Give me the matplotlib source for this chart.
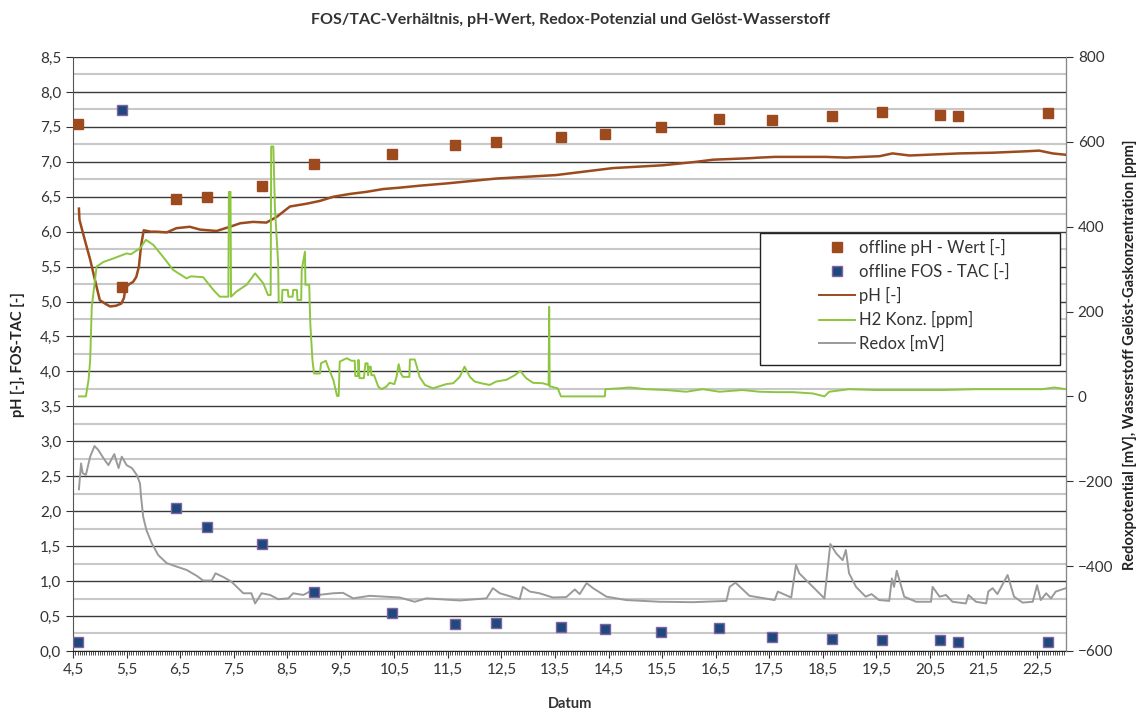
import matplotlib
matplotlib.use("Agg")
import matplotlib.pyplot as plt
from matplotlib.ticker import MultipleLocator, FuncFormatter
from matplotlib.lines import Line2D
from matplotlib.patches import Rectangle

plt.rcParams['font.family'] = ['Lato', 'DejaVu Sans']

# offline samples (day, value)
probe_tage = [4.59, 5.41, 6.42, 7.00, 8.02, 9.00, 10.46, 11.64, 12.39, 13.61,
              14.44, 15.48, 16.57, 17.56, 18.67, 19.61, 20.69, 21.02, 22.70]
ph_offline = [7.54, 5.21, 6.47, 6.50, 6.65, 6.97, 7.11, 7.24, 7.28, 7.36,
              7.40, 7.50, 7.61, 7.60, 7.66, 7.71, 7.67, 7.66, 7.70]
fos_tac = [0.13, 7.74, 2.05, 1.78, 1.53, 0.84, 0.54, 0.39, 0.40, 0.35,
           0.31, 0.27, 0.33, 0.20, 0.17, 0.16, 0.16, 0.13, 0.13]

# online pH
ph_t = [4.61, 4.62, 4.72, 4.82, 4.94, 5.00, 5.10, 5.19, 5.30, 5.40, 5.45, 5.48,
        5.55, 5.62, 5.68, 5.73, 5.77, 5.82, 5.95, 6.06, 6.25, 6.43, 6.68, 6.87,
        7.18, 7.43, 7.62, 7.86, 8.11, 8.30, 8.55, 8.86, 9.11, 9.36, 9.67, 9.98,
        10.29, 10.60, 11.00, 11.47, 12.40, 13.52, 14.58, 15.51, 16.14, 16.45,
        17.10, 17.32, 17.60, 18.06, 18.56, 18.93, 19.56, 19.80, 20.12, 21.05,
        21.67, 22.29, 22.54, 22.79, 23.04]
ph_val = [6.33, 6.17, 5.88, 5.60, 5.21, 5.02, 4.97, 4.93, 4.94, 4.97, 5.05, 5.20,
          5.25, 5.28, 5.35, 5.50, 5.80, 6.02, 6.00, 6.00, 5.99, 6.05, 6.07, 6.03,
          6.01, 6.07, 6.12, 6.14, 6.13, 6.21, 6.36, 6.40, 6.44, 6.50, 6.54, 6.57,
          6.61, 6.63, 6.66, 6.69, 6.76, 6.81, 6.91, 6.95, 7.00, 7.03,
          7.05, 7.06, 7.07, 7.07, 7.07, 7.06, 7.08, 7.12, 7.09, 7.12,
          7.13, 7.15, 7.16, 7.12, 7.10]

# dissolved hydrogen [ppm]
h2_t = [4.61, 4.74, 4.79, 4.82, 4.85, 4.94, 5.07, 5.25, 5.50, 5.58, 5.75, 5.86,
        6.00, 6.18, 6.37, 6.62, 6.70, 6.93, 7.12, 7.24, 7.40, 7.41, 7.44, 7.45,
        7.55, 7.74, 7.90, 8.05, 8.14, 8.19, 8.20, 8.24, 8.27, 8.33, 8.34, 8.40,
        8.41, 8.51, 8.52, 8.60, 8.61, 8.68, 8.69, 8.76, 8.77, 8.83, 8.84, 8.91,
        8.93, 8.97, 9.00, 9.11, 9.13, 9.22, 9.26, 9.36, 9.43, 9.46, 9.48, 9.61,
        9.70, 9.76, 9.77, 9.82, 9.83, 9.85, 9.93, 9.96, 10.00, 10.01, 10.03,
        10.06, 10.07, 10.12, 10.20, 10.26, 10.35, 10.41, 10.50, 10.54, 10.58,
        10.62, 10.66, 10.78, 10.79, 10.88, 10.92, 10.97, 11.07, 11.22, 11.47,
        11.60, 11.72, 11.81, 11.91, 12.00, 12.12, 12.28, 12.40, 12.59, 12.75,
        12.85, 12.96, 13.09, 13.27, 13.38, 13.39, 13.40, 13.43, 13.55, 13.61,
        14.43, 14.44, 14.70, 14.89, 15.20, 15.57, 15.95, 16.26, 16.57, 17.00,
        17.32, 17.63, 17.94, 18.31, 18.53, 18.62, 18.99, 19.49, 20.12, 20.74,
        21.36, 21.98, 22.60, 22.82, 23.04]
h2_val = [0, 0, 39, 86, 211, 306, 317, 325, 337, 335, 349, 369,
          357, 329, 298, 278, 283, 281, 251, 235, 235, 482, 482, 235,
          247, 263, 290, 267, 239, 239, 589, 589, 443, 314, 223, 223,
          251, 251, 235, 235, 251, 251, 227, 227, 298, 341, 263, 263,
          172, 86, 54, 54, 78, 84, 70, 39, 1, 1, 82, 90,
          84, 84, 48, 48, 86, 43, 43, 78, 78, 50, 70,
          70, 50, 50, 23, 17, 23, 32, 29, 46, 76,
          54, 46, 46, 87, 87, 70, 46, 27, 19, 29,
          31, 46, 70, 46, 35, 31, 27, 35, 39, 50,
          60, 43, 32, 31, 27, 211, 23, 23, 19, 0,
          0, 17, 19, 21, 17, 15, 11, 17, 11, 15,
          11, 10, 10, 7, 0, 11, 17, 15, 15, 15,
          17, 17, 17, 21, 17]

# redox potential [mV]
redox_t = [4.61, 4.65, 4.68, 4.74, 4.82, 4.90, 4.97, 5.07, 5.16, 5.27, 5.35,
           5.41, 5.50, 5.60, 5.69, 5.75, 5.77, 5.81, 5.87, 5.97, 6.09, 6.25,
           6.43, 6.62, 6.81, 6.93, 7.09, 7.16, 7.31, 7.46, 7.68, 7.83, 7.90,
           8.02, 8.18, 8.33, 8.52, 8.61, 8.80, 8.98, 9.08, 9.36, 9.54, 9.73,
           10.04, 10.60, 10.88, 11.10, 11.72, 12.22, 12.34, 12.47, 12.84, 12.90,
           13.03, 13.21, 13.46, 13.71, 13.87, 13.96, 14.09, 14.21, 14.46, 14.83,
           15.45, 16.08, 16.70, 16.76, 16.87, 17.13, 17.60, 17.66, 17.91, 18.00,
           18.06, 18.53, 18.64, 18.75, 18.87, 18.93, 18.99, 19.12, 19.30, 19.41,
           19.55, 19.74, 19.79, 19.83, 19.88, 20.02, 20.24, 20.52, 20.55, 20.68,
           20.80, 20.92, 21.17, 21.22, 21.36, 21.55, 21.59, 21.67, 21.76, 21.95,
           22.07, 22.23, 22.42, 22.50, 22.57, 22.67, 22.76, 22.85, 23.04]
redox_val = [-219, -158, -181, -185, -142, -117, -126, -146, -162, -136, -169,
             -142, -162, -169, -185, -205, -236, -284, -315, -346, -374, -393,
             -401, -409, -423, -434, -434, -417, -426, -437, -464, -464, -488,
             -464, -468, -478, -476, -464, -468, -456, -468, -464, -463, -476,
             -470, -474, -484, -476, -481, -476, -452, -464, -478, -449,
             -460, -464, -474, -473, -455, -466, -440, -452, -472, -480,
             -484, -485, -482, -449, -439, -470, -480, -460, -474, -397,
             -417, -476, -348, -370, -386, -362, -417, -449, -472, -466,
             -480, -482, -429, -449, -411, -472, -484, -484, -449, -472,
             -468, -484, -488, -468, -484, -488, -460, -452, -466, -421,
             -472, -486, -484, -445, -480, -464, -476, -460, -452]

c_ph = '#9C4A1E'
c_h2 = '#8CC63F'
c_redox = '#9A9A9A'
c_fos = '#1F497D'

fig = plt.figure(figsize=(11.43, 7.13), dpi=100)
ax = fig.add_axes([0.0639, 0.0870, 0.8687, 0.8331])
ax2 = ax.twinx()

comma = FuncFormatter(lambda v, p: f"{v:.1f}".replace('.', ','))

ax.set_xlim(4.5, 23.04)
ax.set_ylim(0, 8.5)
ax2.set_ylim(-600, 800)

ax.yaxis.set_major_locator(MultipleLocator(0.5))
ax.yaxis.set_minor_locator(MultipleLocator(0.25))
ax.yaxis.set_major_formatter(comma)
ax.xaxis.set_major_locator(MultipleLocator(1.0))
ax.xaxis.set_minor_locator(MultipleLocator(1 / 24))
ax.xaxis.set_major_formatter(comma)
ax.set_xticks([4.5 + i for i in range(19)])
ax2.yaxis.set_major_locator(MultipleLocator(200))

ax.grid(axis='y', which='major', color='#3a3a3a', lw=1.0)
ax.grid(axis='y', which='minor', color='#c8c8c8', lw=1.5)
ax.set_axisbelow(True)

ax.tick_params(axis='y', which='major', direction='out', length=5, labelsize=11, colors='#333333')
ax.tick_params(axis='y', which='minor', length=0)
ax.tick_params(axis='x', which='major', direction='out', length=5, labelsize=11, colors='#333333')
ax.tick_params(axis='x', which='minor', direction='out', length=3, color='#333333')
ax2.tick_params(axis='y', direction='out', length=5, labelsize=11, colors='#333333')

for s in ['top']:
    ax.spines[s].set_visible(False)
    ax2.spines[s].set_visible(False)
ax.spines['left'].set_color('#555555')
ax.spines['bottom'].set_color('#222222')
ax2.spines['right'].set_color('#888888')
ax2.spines['left'].set_visible(False)
ax2.spines['bottom'].set_visible(False)

ax2.plot(redox_t, redox_val, color=c_redox, lw=1.4, zorder=2)
ax2.plot(h2_t, h2_val, color=c_h2, lw=1.4, zorder=3)
ax2.plot([], [])
ax.plot(ph_t, ph_val, color=c_ph, lw=1.8, zorder=3)

ax2.plot(probe_tage, ph_offline, ls='none', marker='s', ms=7.5, color=c_ph,
         mec=c_ph, zorder=5, transform=ax.transData)
ax2.plot(probe_tage, fos_tac, ls='none', marker='s', ms=7.5, color=c_fos,
         mec='#8064A2', mew=1.0, zorder=5, transform=ax.transData)

# legend box
ax2.add_patch(Rectangle((0.692, 0.481), 0.302, 0.223, transform=ax2.transAxes,
                        facecolor='white', edgecolor='#222222', lw=1.0, zorder=8))
handles = [
    Line2D([], [], ls='none', marker='s', ms=7.5, color=c_ph),
    Line2D([], [], ls='none', marker='s', ms=7.5, color=c_fos, mec='#8064A2'),
    Line2D([], [], color=c_ph, lw=1.4),
    Line2D([], [], color=c_h2, lw=1.4),
    Line2D([], [], color=c_redox, lw=1.4),
]
labels = ['offline pH - Wert [-]', 'offline FOS - TAC [-]', 'pH [-]',
          'H2 Konz. [ppm]', 'Redox [mV]']
leg = ax2.legend(handles, labels, loc='upper left', bbox_to_anchor=(0.745, 0.704),
                 frameon=False, fontsize=12, handlelength=2.2, handletextpad=0.2,
                 labelspacing=0.45, borderaxespad=0, borderpad=0.35)
leg.set_zorder(9)
for t in leg.get_texts():
    t.set_color('#333333')

fig.text(0.499, 0.972, 'FOS/TAC-Verhältnis, pH-Wert, Redox-Potenzial und Gelöst-Wasserstoff',
         ha='center', va='center', fontsize=11.5, fontweight='bold', color='#333333')
fig.text(0.016, 0.503, 'pH [-], FOS-TAC [-]', rotation=90, ha='center', va='center',
         fontsize=10.5, fontweight='bold', color='#222222')
fig.text(0.989, 0.503, 'Redoxpotential [mV], Wasserstoff Gelöst-Gaskonzentration [ppm]',
         rotation=90, ha='center', va='center', fontsize=10.5, fontweight='bold',
         color='#222222')
fig.text(0.499, 0.012, 'Datum', ha='center', va='center', fontsize=10.5,
         fontweight='bold', color='#333333')

fig.savefig('out.png', dpi=100)
